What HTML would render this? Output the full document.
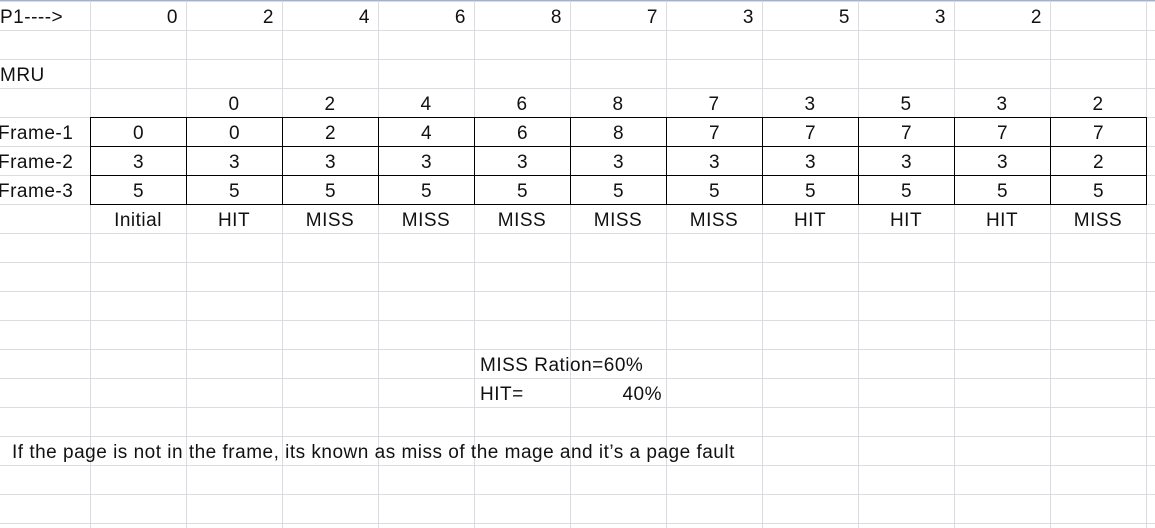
<!DOCTYPE html>
<html><head><meta charset="utf-8"><style>
html,body{margin:0;padding:0}
body{width:1155px;height:528px;overflow:hidden;position:relative;background:#fff;font-family:"Liberation Sans",sans-serif;font-size:19px;letter-spacing:0.5px;color:#111}
#grid{position:absolute;left:0;top:0;width:1155px;height:528px;
background-image:linear-gradient(to right,#d9dce2 1px,transparent 1px),linear-gradient(to bottom,#d9dce2 1px,transparent 1px);
background-size:96px 29px;background-position:90px 1px}
#topline{position:absolute;left:0;top:0;width:1155px;height:1px;background:#9db3d6}
.c{position:absolute;height:29px;line-height:33px;width:96px;text-align:center;white-space:nowrap}
.r{text-align:right;width:88px}
.l{text-align:left;width:auto}
.b{box-sizing:border-box;border:1px solid #000;margin:0}
</style></head><body>
<div id="grid"></div>
<div id="topline"></div>

<div class="c l" style="left:0;top:1px">P1----&gt;</div>
<div class="c r" style="left:90px;top:1px">0</div>
<div class="c r" style="left:186px;top:1px">2</div>
<div class="c r" style="left:282px;top:1px">4</div>
<div class="c r" style="left:378px;top:1px">6</div>
<div class="c r" style="left:474px;top:1px">8</div>
<div class="c r" style="left:570px;top:1px">7</div>
<div class="c r" style="left:666px;top:1px">3</div>
<div class="c r" style="left:762px;top:1px">5</div>
<div class="c r" style="left:858px;top:1px">3</div>
<div class="c r" style="left:954px;top:1px">2</div>

<div class="c l" style="left:0;top:59px">MRU</div>

<div class="c" style="left:186px;top:88px">0</div>
<div class="c" style="left:282px;top:88px">2</div>
<div class="c" style="left:378px;top:88px">4</div>
<div class="c" style="left:474px;top:88px">6</div>
<div class="c" style="left:570px;top:88px">8</div>
<div class="c" style="left:666px;top:88px">7</div>
<div class="c" style="left:762px;top:88px">3</div>
<div class="c" style="left:858px;top:88px">5</div>
<div class="c" style="left:954px;top:88px">3</div>
<div class="c" style="left:1050px;top:88px">2</div>

<div class="c l" style="left:-2px;top:117px">Frame-1</div>
<div class="c l" style="left:-2px;top:146px">Frame-2</div>
<div class="c l" style="left:-2px;top:175px">Frame-3</div>

<div id="tbl"></div>

<div class="c" style="left:90px;top:204px">Initial</div>
<div class="c" style="left:186px;top:204px">HIT</div>
<div class="c" style="left:282px;top:204px">MISS</div>
<div class="c" style="left:378px;top:204px">MISS</div>
<div class="c" style="left:474px;top:204px">MISS</div>
<div class="c" style="left:570px;top:204px">MISS</div>
<div class="c" style="left:666px;top:204px">MISS</div>
<div class="c" style="left:762px;top:204px">HIT</div>
<div class="c" style="left:858px;top:204px">HIT</div>
<div class="c" style="left:954px;top:204px">HIT</div>
<div class="c" style="left:1050px;top:204px">MISS</div>

<div class="c l" style="left:480px;top:349px">MISS Ration=60%</div>
<div class="c l" style="left:480px;top:378px">HIT=</div>
<div class="c r" style="left:570px;top:378px;width:92px">40%</div>
<div class="c l" style="left:12px;top:436px">If the page is not in the frame, its known as miss of the mage and it’s a page fault</div>

<script>
var frame1 = ['0','0','2','4','6','8','7','7','7','7','7'];
var frame2 = ['3','3','3','3','3','3','3','3','3','3','2'];
var frame3 = ['5','5','5','5','5','5','5','5','5','5','5'];
var rows = [frame1, frame2, frame3];
var tbl = document.getElementById('tbl');
rows.forEach(function(row, r){
  row.forEach(function(v, j){
    var d = document.createElement('div');
    d.className = 'c b';
    d.style.left = (90 + 96*j) + 'px';
    d.style.top = (117 + 29*r) + 'px';
    d.style.width = '97px';
    d.style.height = '30px';
    d.style.lineHeight = '31px';
    d.textContent = v;
    
    
    tbl.appendChild(d);
  });
});
</script>
</body></html>
